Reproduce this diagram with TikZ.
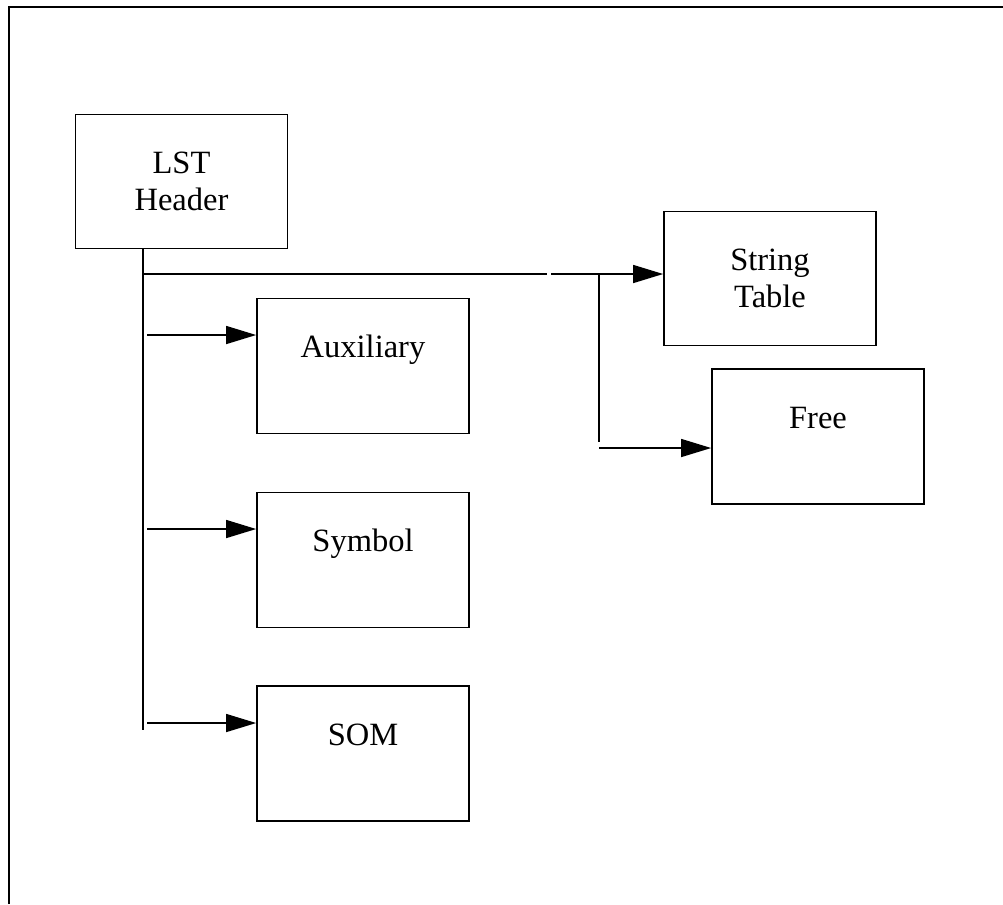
\documentclass[tikz,border=0pt]{standalone}
\usepackage{fontspec}
\setmainfont{Liberation Serif}
\usetikzlibrary{arrows.meta}

\begin{document}
\begin{tikzpicture}[x=0.02cm,y=-0.02cm]
\tikzset{block/.style = {shape=rectangle,draw,line width=1pt,minimum width=4.24cm,minimum height=2.68cm,align=center,font=\fontsize{18.5}{21}\selectfont}}
\tikzset{entry/.style = {shape=rectangle,draw,line width=1pt,minimum width=4.24cm,inner sep=0pt,text height=1.18cm,text depth=1.52cm,font=\fontsize{18.5}{21}\selectfont}}
\tikzset{edge/.style = {-{Triangle[length=0.6cm,width=0.36cm]},line width=0.8pt}}
\tikzset{line/.style = {line width=0.8pt}}

% frame

\useasboundingbox (0,0) rectangle (1003,904);
\draw[line width=1pt] (9,904) -- (9,7) -- (1003,7);

% blocks

\node[block] (head) at (181.5,181.5) {LST\\Header};
\node[block] (strtab) at (770,278.5) {String\\Table};
\node[entry] (free) at (818,436.5) {Free};
\node[entry] (aux) at (363,366) {Auxiliary};
\node[entry] (sym) at (363,560) {Symbol};
\node[entry] (som) at (363,753.5) {SOM};

% trunk

\coordinate (trunk) at (143,730);
\coordinate (gap) at (547,274);
\coordinate (gapend) at (551,274);
\coordinate (split) at (599,274);
\coordinate (bend) at (599,442);
\coordinate (f0) at (599,448);

\draw[line] (trunk |- head.south) -- (trunk);
\draw[line] (trunk |- gap) -- (gap);
\draw[edge] (gapend) -- (gapend -| strtab.west);
\draw[line] (split) -- (bend);
\draw[edge] (f0) -- (f0 -| free.west);

% edges

\coordinate (a0) at (147,335);
\coordinate (s0) at (147,529);
\coordinate (m0) at (147,723);
\draw[edge] (a0) -- (a0 -| aux.west);
\draw[edge] (s0) -- (s0 -| sym.west);
\draw[edge] (m0) -- (m0 -| som.west);
\end{tikzpicture}
\end{document}
